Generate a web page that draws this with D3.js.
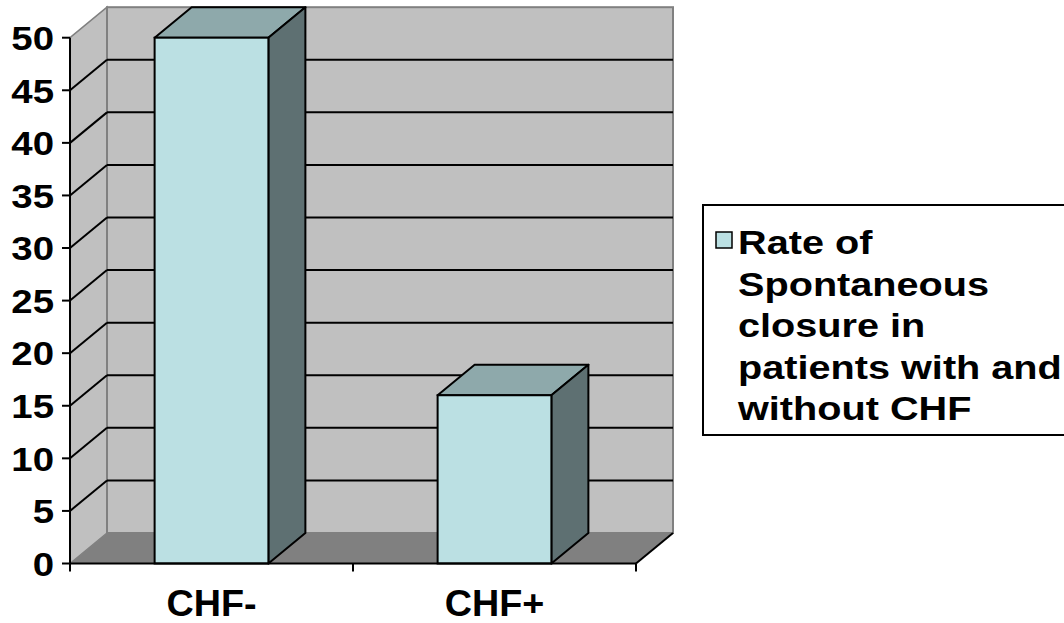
<!DOCTYPE html>
<html>
<head>
<meta charset="utf-8">
<script src="https://cdn.jsdelivr.net/npm/d3@7"></script>
<style>
  html, body { margin: 0; padding: 0; background: #fff; }
  svg { display: block; }
  text { font-family: "Liberation Sans", Arial, sans-serif; font-weight: bold; fill: #000; }
</style>
</head>
<body>
<svg id="chart" width="1064" height="623"></svg>
<script>
// Data
const categories = ["CHF-", "CHF+"];
const closureRate = [50, 16];
const yTicks = [0, 5, 10, 15, 20, 25, 30, 35, 40, 45, 50];
const legendLines = ["Rate of", "Spontaneous", "closure in", "patients with and", "without CHF"];

const svg = d3.select("#chart");

// Plot frame (front plane) and 3-D depth offset
const plotLeft = 70, plotRight = 636, plotBottom = 563.5, plotTop = 37.7;
const depthX = 37, depthY = -30.5;

const y = d3.scaleLinear().domain([0, 50]).range([plotBottom, plotTop]);
const x = d3.scaleBand().domain(categories).range([plotLeft, plotRight]).padding(0);

const wallFill = "#c0c0c0", floorFill = "#808080", edge = "#808080";

// Left side wall
svg.append("polygon")
  .attr("points", [[plotLeft, y(0)], [plotLeft + depthX, y(0) + depthY], [plotLeft + depthX, y(50) + depthY], [plotLeft, y(50)]].join(" "))
  .attr("fill", wallFill).attr("stroke", edge).attr("stroke-width", 1.5);

// Back wall
svg.append("rect")
  .attr("x", plotLeft + depthX).attr("y", y(50) + depthY)
  .attr("width", plotRight - plotLeft).attr("height", y(0) - y(50))
  .attr("fill", wallFill).attr("stroke", edge).attr("stroke-width", 2);

// Floor
svg.append("polygon")
  .attr("points", [[plotLeft, y(0)], [plotRight, y(0)], [plotRight + depthX, y(0) + depthY], [plotLeft + depthX, y(0) + depthY]].join(" "))
  .attr("fill", floorFill);
svg.append("line")
  .attr("x1", plotRight).attr("y1", y(0)).attr("x2", plotRight + depthX).attr("y2", y(0) + depthY)
  .attr("stroke", "#000").attr("stroke-width", 2);

// Gridlines: back wall and left wall diagonals
const gridVals = yTicks.filter(v => v > 0 && v < 50);
svg.append("g").selectAll("line").data(gridVals).join("line")
  .attr("x1", plotLeft + depthX).attr("x2", plotRight + depthX)
  .attr("y1", d => y(d) + depthY).attr("y2", d => y(d) + depthY)
  .attr("stroke", "#000").attr("stroke-width", 2);
svg.append("g").selectAll("line").data(gridVals).join("line")
  .attr("x1", plotLeft).attr("y1", d => y(d))
  .attr("x2", plotLeft + depthX).attr("y2", d => y(d) + depthY)
  .attr("stroke", "#000").attr("stroke-width", 2);

// Bars (front, top and side faces)
const barW = x.bandwidth() * 0.402;
const bars = svg.append("g").selectAll("g").data(categories.map((c, i) => ({ c, v: closureRate[i] }))).join("g");
bars.each(function (d) {
  const g = d3.select(this);
  const x0 = x(d.c) + (x.bandwidth() - barW) / 2, x1 = x0 + barW;
  const yt = y(d.v), yb = y(0);
  g.append("polygon")
    .attr("points", [[x0, yt], [x1, yt], [x1 + depthX, yt + depthY], [x0 + depthX, yt + depthY]].join(" "))
    .attr("fill", "#8ea9ab").attr("stroke", "#000").attr("stroke-width", 2).attr("stroke-linejoin", "round");
  g.append("polygon")
    .attr("points", [[x1, yt], [x1 + depthX, yt + depthY], [x1 + depthX, yb + depthY], [x1, yb]].join(" "))
    .attr("fill", "#5e7072").attr("stroke", "#000").attr("stroke-width", 2).attr("stroke-linejoin", "round");
  g.append("rect")
    .attr("x", x0).attr("y", yt).attr("width", barW).attr("height", yb - yt)
    .attr("fill", "#bbe0e3").attr("stroke", "#000").attr("stroke-width", 2);
});

// Y axis
const yAxis = svg.append("g");
yAxis.append("line").attr("x1", plotLeft).attr("x2", plotLeft).attr("y1", y(50)).attr("y2", y(0))
  .attr("stroke", "#000").attr("stroke-width", 2);
yAxis.selectAll("line.tick").data(yTicks).join("line").attr("class", "tick")
  .attr("x1", plotLeft - 8).attr("x2", plotLeft).attr("y1", d => y(d)).attr("y2", d => y(d))
  .attr("stroke", "#000").attr("stroke-width", 2);
yAxis.selectAll("text").data(yTicks).join("text")
  .attr("transform", d => `translate(54,${y(d)}) scale(1.13,1)`)
  .attr("text-anchor", "end").attr("dy", "0.36em")
  .style("font-size", "34px")
  .text(d => d);

// X axis
const xAxis = svg.append("g");
xAxis.append("line").attr("x1", plotLeft).attr("x2", plotRight).attr("y1", plotBottom).attr("y2", plotBottom)
  .attr("stroke", "#000").attr("stroke-width", 2);
const bounds = categories.map(c => x(c)).concat([plotRight]);
xAxis.selectAll("line.tick").data(bounds).join("line").attr("class", "tick")
  .attr("x1", d => d).attr("x2", d => d).attr("y1", plotBottom).attr("y2", plotBottom + 8)
  .attr("stroke", "#000").attr("stroke-width", 2);
xAxis.selectAll("text").data(categories).join("text")
  .attr("transform", d => `translate(${x(d) + x.bandwidth() / 2},616) scale(1.02,1)`)
  .attr("text-anchor", "middle")
  .style("font-size", "37px")
  .text(d => d);

// Legend
const legend = svg.append("g");
legend.append("rect").attr("x", 703).attr("y", 205).attr("width", 400).attr("height", 230)
  .attr("fill", "#fff").attr("stroke", "#000").attr("stroke-width", 2);
legend.append("rect").attr("x", 716).attr("y", 232).attr("width", 16).attr("height", 16)
  .attr("fill", "#bbe0e3").attr("stroke", "#000").attr("stroke-width", 1.5);
legend.selectAll("text").data(legendLines).join("text")
  .attr("transform", (d, i) => `translate(738,${254 + i * 41.5}) scale(1.22,1)`)
  .style("font-size", "32.5px")
  .text(d => d);
</script>
</body>
</html>
